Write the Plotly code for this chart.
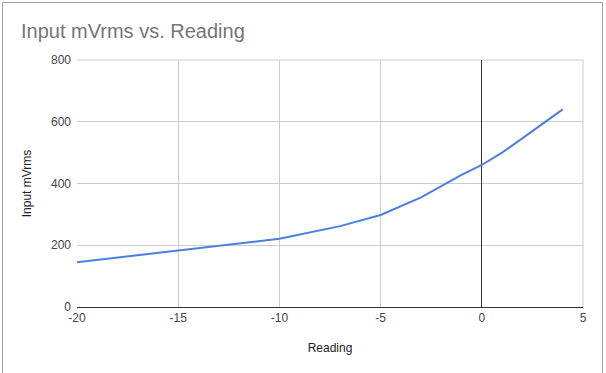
import plotly.graph_objects as go

reading = [-20, -15, -10, -7, -5, -3, -2, -1, 0, 1, 2, 3, 4]
input_mvrms = [145, 182, 221, 262, 298, 355, 392, 428, 460, 500, 546, 594, 640]

x_ticks = [-20, -15, -10, -5, 0, 5]
y_ticks = [0, 200, 400, 600, 800]

W, H = 606, 373
L, R, T, B = 77, 23, 60, 66
pw, ph = W - L - R, H - T - B

def px(x):
    return (x - L) / pw

def py(y):
    return (H - B - y) / ph

fig = go.Figure()
fig.add_trace(go.Scatter(
    x=reading, y=input_mvrms, mode="lines",
    line=dict(color="#4a7fe0", width=2),
    hoverinfo="x+y", showlegend=False,
))

font = "Liberation Sans, Arial, sans-serif"
fig.update_layout(
    width=W, height=H,
    margin=dict(l=L, r=R, t=T, b=B),
    paper_bgcolor="white", plot_bgcolor="white",
    font=dict(family=font, size=12, color="#222222"),
    title=dict(text="Input mVrms vs. Reading", xref="container", yref="container",
               x=21 / W, xanchor="left",
               y=1 - 31 / H, yanchor="middle",
               font=dict(family=font, size=20, color="#757575")),
    xaxis=dict(range=[-20, 5], tickvals=x_ticks, ticktext=[str(v) for v in x_ticks],
               showgrid=True, gridcolor="#cccccc", gridwidth=1,
               zeroline=True, zerolinecolor="#333333", zerolinewidth=1,
               showline=True, linecolor="#333333", linewidth=1,
               ticks="", tickfont=dict(color="#444444", size=12),
               ticklabelstandoff=0,
               title=dict(text="Reading", standoff=19,
                          font=dict(color="#222222", size=12))),
    yaxis=dict(range=[0, 800], tickvals=y_ticks, ticktext=[str(v) for v in y_ticks],
               showgrid=True, gridcolor="#cccccc", gridwidth=1,
               zeroline=False, showline=False,
               ticks="", tickfont=dict(color="#444444", size=12),
               ticklabelstandoff=5,
               title=dict(text="Input mVrms", standoff=16,
                          font=dict(color="#222222", size=12))),
    shapes=[
        dict(type="rect", xref="paper", yref="paper",
             x0=px(2.5), x1=px(602.5), y0=py(380), y1=py(2.5),
             line=dict(color="#9e9e9e", width=1), fillcolor="rgba(0,0,0,0)", layer="below"),
        dict(type="line", xref="paper", yref="paper",
             x0=0, x1=1, y0=1, y1=1, line=dict(color="#cccccc", width=1), layer="below"),
        dict(type="line", xref="paper", yref="paper",
             x0=1, x1=1, y0=0, y1=1, line=dict(color="#cccccc", width=1), layer="below"),
    ],
)

fig.write_html("out.html", config={"displayModeBar": False},
               post_script="document.body.style.margin='0';document.body.style.overflow='hidden';")
